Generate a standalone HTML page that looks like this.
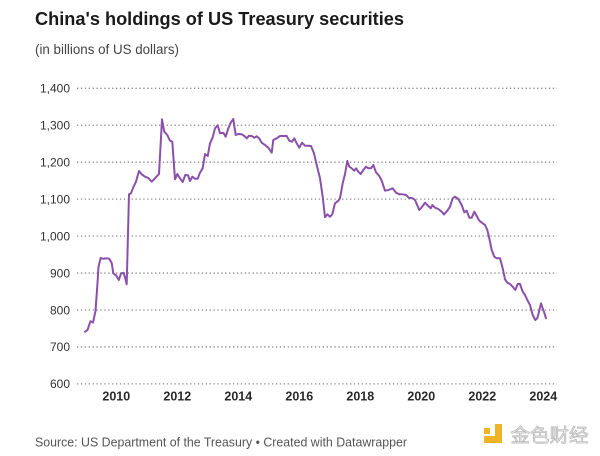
<!DOCTYPE html>
<html>
<head>
<meta charset="utf-8">
<style>
  html,body{margin:0;padding:0;background:#fff;}
  svg{display:block;}
  text{font-family:"Liberation Sans","Noto Sans CJK SC",sans-serif;}
</style>
</head>
<body>
<svg width="600" height="456" viewBox="0 0 600 456" xmlns="http://www.w3.org/2000/svg">
  <rect width="600" height="456" fill="#fff"/>
  <!-- Title -->
  <text x="35" y="25" font-size="18.5" font-weight="bold" fill="#1a1a1a" textLength="369" lengthAdjust="spacingAndGlyphs">China's holdings of US Treasury securities</text>
  <text x="35" y="54" font-size="13.5" fill="#444" textLength="144" lengthAdjust="spacingAndGlyphs">(in billions of US dollars)</text>

  <!-- Gridlines -->
  <g stroke="#8a8a8a" stroke-width="1.3" stroke-dasharray="1.3 2.6" fill="none">
    <line x1="77" y1="88.3" x2="557" y2="88.3"/>
    <line x1="77" y1="125.25" x2="557" y2="125.25"/>
    <line x1="77" y1="162.2" x2="557" y2="162.2"/>
    <line x1="77" y1="199.15" x2="557" y2="199.15"/>
    <line x1="77" y1="236.1" x2="557" y2="236.1"/>
    <line x1="77" y1="273.05" x2="557" y2="273.05"/>
    <line x1="77" y1="310" x2="557" y2="310"/>
    <line x1="77" y1="346.95" x2="557" y2="346.95"/>
    <line x1="77" y1="383.9" x2="557" y2="383.9"/>
  </g>

  <!-- Y labels -->
  <g font-size="12" fill="#333" text-anchor="end">
    <text x="70" y="92.6">1,400</text>
    <text x="70" y="129.5">1,300</text>
    <text x="70" y="166.5">1,200</text>
    <text x="70" y="203.4">1,100</text>
    <text x="70" y="240.4">1,000</text>
    <text x="70" y="277.3">900</text>
    <text x="70" y="314.3">800</text>
    <text x="70" y="351.2">700</text>
    <text x="70" y="388.2">600</text>
  </g>

  <!-- X labels -->
  <g font-size="12.5" font-weight="bold" fill="#2a2a2a" text-anchor="middle">
    <text x="116.3" y="400.7">2010</text>
    <text x="177.3" y="400.7">2012</text>
    <text x="238.3" y="400.7">2014</text>
    <text x="299.3" y="400.7">2016</text>
    <text x="360.3" y="400.7">2018</text>
    <text x="421.3" y="400.7">2020</text>
    <text x="482.3" y="400.7">2022</text>
    <text x="543.3" y="400.7">2024</text>
  </g>

  <!-- Data line -->
  <polyline fill="none" stroke="#8b50aa" stroke-width="2" stroke-linejoin="round" stroke-linecap="round"
    points="85,331.7 87.5,330 90.5,321.2 93,322.5 95.5,311 97.5,283 98.5,266.7 100.7,258 103.3,258.8 106.7,258.3 109.3,258.8 111.7,263 113.3,273.3 116,275.3 118.8,280 121,273.5 123.5,272.8 124.9,277 126.7,284.3 129,194.3 131,193.3 133.3,187.3 136,181.7 139,171 141.7,174.3 145,176.7 148.3,178 151.7,181.7 155,178.3 159,174 162,119.3 164.3,131.7 167.3,135 170,140.7 172.3,141.7 175,179.3 177.3,174 180,178.3 182.7,182 185.3,175 188,175.3 190,181 192.3,176.7 195,178.7 197.7,178.7 200,172.7 202.7,168.3 205,154 207.7,156 210,143.3 212.7,137.3 215,128.3 217.7,125.3 220,133.3 223.3,132.7 225.7,136.7 228.3,128.3 230.7,122.7 233.3,119 235.7,135 238.3,134 241.7,134.3 244.3,136 246.7,138.3 249,135.7 251.7,136 254.3,137.7 256.7,136.3 259.3,138.5 261.7,142.7 265,145 268.3,147.7 271.7,152.7 273.3,140 276.7,138.3 280,136 283.3,136 286.7,136 289.3,140.7 292,141.7 294.3,138.3 296.7,143.3 299.3,147.7 302,142.7 305,145.7 308.3,145.7 311,146 314,153.3 316.7,165 320,178.3 322.7,196.7 325,217.3 327.3,214.3 330,216.7 332.3,214.3 335,203.3 338.3,200.7 340,198.3 342.7,183.3 345,174 347.3,161 349.3,166.7 351.7,168.3 354.3,170.7 356,168.3 358.3,171.7 360.7,174 363.3,170 366,166.7 368.3,168.3 371,168.3 373.3,165 376,172.3 379.3,176 381.7,180.7 385,190.7 388.3,190 392.7,188.3 396,192.7 399.3,194.3 402.7,194.3 406,195 408.7,197.7 412.7,198.3 415,200 419.3,210 422.7,206 425,202.7 428.3,206 430.7,208.3 432.3,205 435,207.7 438.3,209 441.7,211.7 444,214.5 447.3,210.7 450,206.7 452.7,198.3 455,196.7 458.3,199 461.7,205 464.3,212.3 466.7,210.7 469.3,217.7 471.7,217.7 474.3,211.7 476.7,216 479.3,220.7 482.7,223.3 485,225 487.3,230 489.3,238.3 491.7,250 494.3,256.7 496.7,258.3 500,258.3 502.7,268.3 505,279.3 507.3,282.7 510,284 512.7,286.7 515.3,290 517.7,284 520,284 522.7,291.7 525,295 527.7,300.7 530,305 532.7,315 535.3,320 537.3,318.3 539,311.7 541,303.3 542.7,308.3 544.3,312.7 546,318.3"/>

  <!-- Source -->
  <text x="35" y="446.7" font-size="13" fill="#555" textLength="372" lengthAdjust="spacingAndGlyphs">Source: US Department of the Treasury • Created with Datawrapper</text>

  <!-- Watermark logo -->
  <g fill="#f0b323">
    <rect x="484" y="428" width="6" height="6"/>
    <rect x="495" y="424" width="7" height="19"/>
    <rect x="484" y="436" width="18" height="7"/>
  </g>
  <text x="510.5" y="442" font-size="18.5" fill="#efefef" stroke="#b5b5b5" stroke-width="0.7" textLength="78" lengthAdjust="spacingAndGlyphs" font-family="'Noto Sans CJK SC',sans-serif">金色财经</text>
</svg>
</body>
</html>
